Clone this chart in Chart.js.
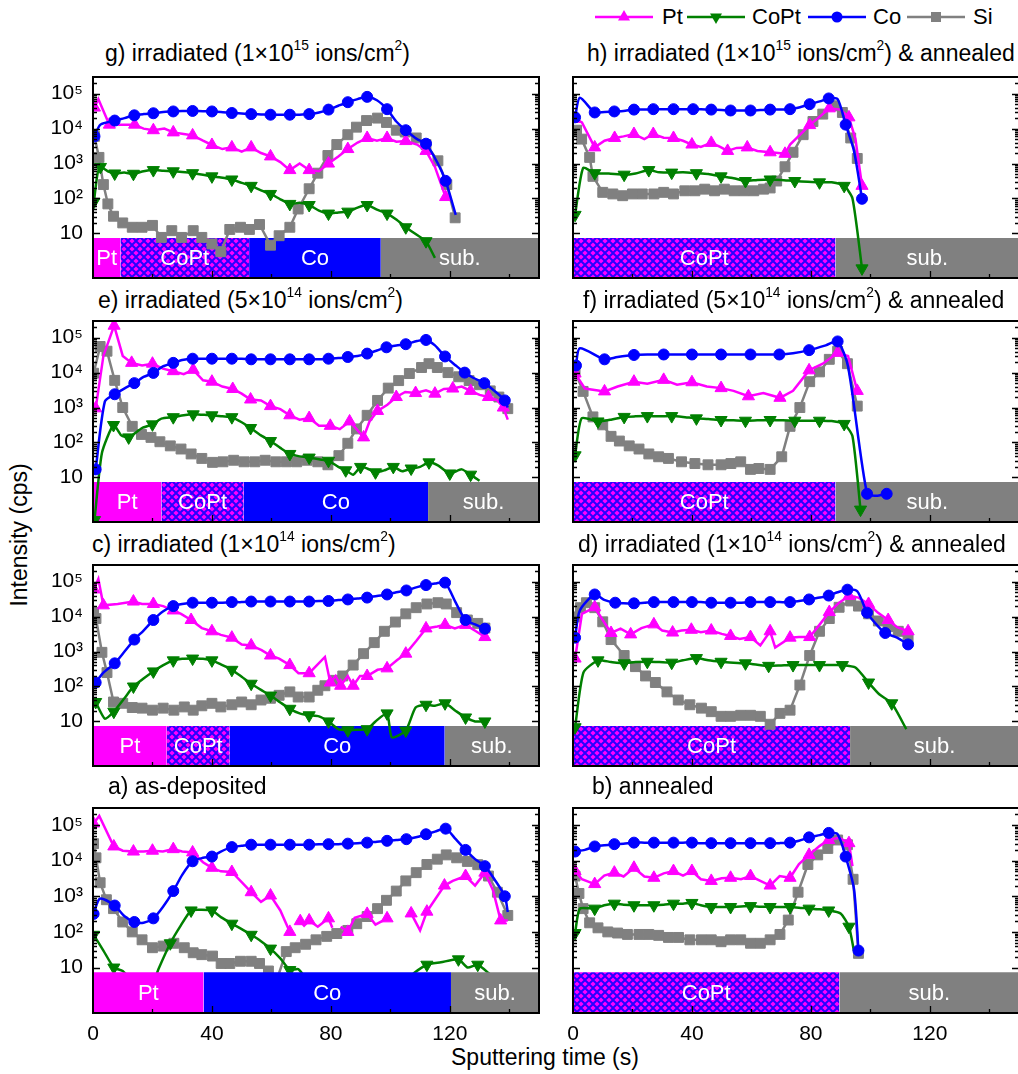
<!DOCTYPE html>
<html>
<head>
<meta charset="utf-8">
<script src="https://cdn.jsdelivr.net/npm/chart.js@4.4.1/dist/chart.umd.min.js"></script>
<style>
  body { margin:0; width:1018px; height:1074px; overflow:hidden; background:#fff; position:relative;
         font-family:"Liberation Sans", Arial, sans-serif; color:#000; }
  canvas { position:absolute; }
  .ttl { position:absolute; font-size:23px; line-height:23px; white-space:nowrap; }
  .ttl sup { font-size:0.6em; vertical-align:baseline; position:relative; top:-0.75em; line-height:0; }
  .leg { position:absolute; font-size:22px; line-height:22px; white-space:nowrap; top:6px; }
  #ytitle { position:absolute; left:19px; top:535px; font-size:23px; line-height:23px; white-space:nowrap;
            transform:translate(-50%,-50%) rotate(-90deg); }
  #xtitle { position:absolute; left:451px; top:1046px; font-size:23px; line-height:23px; white-space:nowrap; }
</style>
</head>
<body>
<svg id="legsvg" width="1018" height="40" style="position:absolute;left:0;top:0"></svg>
<div id="ytitle">Intensity (cps)</div>
<div id="xtitle">Sputtering time (s)</div>
<script>
// ---- data: [time (s), counts (cps)] ----
// g) irradiated 1e15
const gPt = [[0.5,4e4],[1.8,7e4],[5.5,1.3e4],[10,1.3e4],[14,1.3e4],[17,1e4],[20.3,9e3],[24,1e4],[27,7.8e3],[30.5,7e3],[33.5,6.4e3],[37,4.5e3],[40,3.4e3],[43.5,2.6e3],[46.7,2.9e3],[50,2.2e3],[53.2,2.9e3],[56.5,2e3],[59.7,1.6e3],[63,1.1e3],[66.2,650],[69.5,1e3],[72.7,650],[76,600],[79.2,1e3],[82.5,1.6e3],[85.7,2.6e3],[89,4e3],[92.2,5.4e3],[95.5,4.5e3],[98.9,5.4e3],[102,4.2e3],[105.2,4.4e3],[109,3.5e3],[112,2.3e3],[115,800],[118.6,110]];
const gCoPt = [[0.3,80],[1.5,500],[2.5,800],[5,600],[7.3,520],[10.5,550],[13.6,510],[17,600],[20.3,650],[23.6,620],[27,600],[30,570],[33.5,530],[37,480],[40,430],[43,400],[46.7,350],[50,280],[53.2,230],[56.5,170],[59.7,135],[63,95],[66.2,70],[69.5,75],[72.7,65],[76,45],[79.2,37],[82.5,40],[85.7,42],[89,55],[92.2,65],[95.5,48],[98.9,37],[102,25],[105.2,15],[109,9],[112,6],[115,2]];
const gCo = [[0.5,6e3],[2.5,1.3e4],[7.3,1.7e4],[10.6,2e4],[13.9,2.4e4],[17,2.6e4],[20.3,2.75e4],[23.6,3e4],[27,3.1e4],[30,3.2e4],[33.5,3.2e4],[37,3.15e4],[40,3.1e4],[43,3e4],[46.7,2.8e4],[50,2.7e4],[53.2,2.6e4],[56.5,2.55e4],[59.7,2.5e4],[63,2.5e4],[66.2,2.5e4],[69.5,2.5e4],[72.7,2.6e4],[76,2.9e4],[79.2,3.5e4],[82.5,4.5e4],[85.7,5.7e4],[89,7e4],[92.2,8.1e4],[95.5,6.5e4],[98.9,3.6e4],[102,1.6e4],[105.2,9e3],[109,5e3],[112,3.7e3],[116,1e3],[118.6,320],[122,34]];
const gSi = [[0.5,6e3],[2,1.5e3],[3.5,250],[5,70],[6.9,31],[10,20],[13.2,15],[16.5,15],[20,17],[23,7.7],[26.5,12],[29.8,7.7],[33.7,12],[36.6,7.7],[40,5],[43,3],[46,13],[49.6,15],[52.6,13],[56,18],[59.7,4.6],[62.6,8.6],[66.2,15],[69,50],[72.7,190],[75.6,530],[79,1.7e3],[82,3.5e3],[85.7,6.7e3],[88.6,1.1e4],[92,1.7e4],[95.7,2e4],[98.7,1.5e4],[102,9e3],[105,8e3],[108.7,5.4e3],[112,3.5e3],[116,1.2e3],[119,250],[121.8,28]];
const gLayers = [[0,9.2,'Pt'],[9.2,52.5,'CoPt'],[52.5,96.8,'Co'],[96.8,150,'sub.']];

// h) irradiated 1e15 & annealed
const hPt = [[0.7,1.9e4],[3,1.5e4],[7.3,2.9e3],[10.6,4.5e3],[14,5.4e3],[17,6e3],[20.5,7e3],[24,5e3],[27,7e3],[30.5,5.5e3],[33.8,5.4e3],[37,4.5e3],[40,3.5e3],[43,3e3],[46.5,3.9e3],[49.5,3e3],[52,2.3e3],[55,2.8e3],[58.6,2.9e3],[62,2.3e3],[66.3,2.1e3],[69,2e3],[71.3,1.9e3],[73,3.5e3],[79.6,1.26e4],[83,2.2e4],[86.2,3.8e4],[90,3.5e4],[92.8,2.1e4],[95,5e3],[97.2,230]];
const hCoPt = [[0.7,34],[3.4,750],[7.3,530],[12,520],[17.2,480],[21,520],[25.5,650],[29,560],[33.2,550],[37,560],[41.5,530],[45.5,500],[49.8,430],[54,380],[58,316],[62,340],[66.3,350],[70,340],[74.6,316],[79,300],[82.9,290],[87,290],[91.2,230],[94,100],[97.2,1]];
const hCo = [[0.7,2.1e4],[2.3,7.6e4],[7.3,2.9e4],[10.6,3e4],[13.9,3.1e4],[17,3.2e4],[20.5,3.5e4],[24,3.5e4],[27,3.6e4],[30,3.6e4],[33.8,3.6e4],[37,3.6e4],[40.4,3.6e4],[43,3.6e4],[46.5,3.5e4],[50,3.4e4],[53,3.3e4],[56.5,3.3e4],[59.7,3.3e4],[63,3.4e4],[66.3,3.5e4],[69.5,3.5e4],[73,3.6e4],[76,4e4],[79.6,5e4],[83,6e4],[86,7.3e4],[89,7e4],[91.7,1.3e4],[94.5,2.3e3],[97.2,98]];
const hSi = [[1.2,9e3],[2.9,5e3],[5.6,1.5e3],[6.7,430],[10,150],[13.4,135],[16.7,120],[20,135],[23.3,135],[27.2,135],[30.5,150],[33.8,135],[37.6,166],[41,166],[44.3,185],[47.6,166],[50.9,185],[54.2,166],[57.5,166],[60.8,166],[64.1,185],[66.3,200],[68.5,316],[71.3,810],[74,2.1e3],[77.4,6.7e3],[80.7,1.6e4],[84,2.6e4],[87.9,4.5e4],[90.6,2.9e4],[93.4,5.4e3],[95.6,1.4e3]];
const hLayers = [[0,88.3,'CoPt'],[88.3,150,'sub.']];

// e) irradiated 5e14
const ePt = [[0.9,950],[3.5,3e4],[7.1,2.2e5],[10,3e4],[13,1.9e4],[16.5,1.6e4],[20,1.8e4],[23.5,1.3e4],[27,1.1e4],[30.5,9e3],[33.7,1.2e4],[37,6e3],[40,5.5e3],[43.5,4e3],[47,3.4e3],[50,2.5e3],[53,1.7e3],[56.5,1.6e3],[59.7,1.1e3],[63,900],[66.2,600],[69.5,450],[72.7,500],[76,300],[79.8,300],[83,240],[86.3,400],[88.5,250],[91,140],[93,400],[95.7,800],[99,1.2e3],[102,2e3],[105,2.8e3],[108.5,2.6e3],[112,3.1e3],[115,2.5e3],[118,3.4e3],[121,3.5e3],[124,4e3],[127,3e3],[130,2.3e3],[133,2e3],[136,1.6e3],[138,1e3],[139.5,450]];
const eCoPt = [[0.5,0.6],[3,50],[6.9,316],[9.5,160],[12,140],[16.5,260],[20,330],[23,480],[27,530],[30.5,600],[33.7,640],[37,620],[40,600],[43.5,560],[46.7,530],[50,380],[53,260],[56.5,160],[59.7,110],[63,70],[66.2,47],[69.5,40],[72.7,37],[76,33],[79.2,30],[82.5,20],[85,16],[87.5,12],[90,20],[92.2,18],[95,14],[98,16],[101,20],[104,15],[107,18],[110,20],[113,27],[116,22],[120,13],[124,17],[127,12],[130,8]];
const eCo = [[0.9,17],[4,1.5e3],[7.3,2.4e3],[10.5,3.5e3],[13.9,5e3],[17,7.5e3],[20.3,9.8e3],[23.5,1.5e4],[27,1.9e4],[30,2.3e4],[33.5,2.5e4],[37,2.5e4],[40,2.5e4],[43,2.5e4],[46.7,2.5e4],[50,2.5e4],[53.2,2.4e4],[56.5,2.4e4],[59.7,2.4e4],[63,2.4e4],[66.2,2.4e4],[69.5,2.4e4],[72.7,2.4e4],[76,2.4e4],[79.2,2.5e4],[82.5,2.6e4],[85.7,2.8e4],[89,3e4],[92.2,3.5e4],[95.5,4.3e4],[98.7,5.3e4],[102,6e4],[105.2,6.5e4],[109,8e4],[112,8.6e4],[115,6e4],[118.4,2.9e4],[122,1.6e4],[125,1e4],[128,7e3],[131.6,5e3],[135,3e3],[138.5,1.6e3],[139.5,1e3]];
const eSi = [[0.2,9.6e3],[2.4,5.6e4],[4.7,4.1e4],[7.3,6e3],[10,1e3],[13.2,290],[16.3,170],[19.5,140],[22.5,105],[26,80],[29.6,65],[33,47],[36.6,35],[40.2,27],[43.7,28],[47.3,31],[50.8,28],[54.4,28],[57.9,31],[61.5,28],[65,28],[68.5,28],[72,31],[75.6,28],[79,23],[82.7,42],[85.7,95],[88.6,245],[92.2,600],[95.7,1.6e3],[99.3,3.6e3],[102.8,5.9e3],[106.4,9.4e3],[110.5,1.4e4],[113,1.8e4],[115.8,1.4e4],[119.4,1e4],[123,7.6e3],[126.5,5.9e3],[130,4.5e3],[133.6,3e3],[136.5,2e3],[139.5,930]];
const eLayers = [[0,23,'Pt'],[23,50.7,'CoPt'],[50.7,112.7,'Co'],[112.7,150,'sub.']];

// f) irradiated 5e14 & annealed
const fPt = [[0.7,9.4e3],[4,3.5e3],[10.6,2.9e3],[15,4e3],[20.5,5.5e3],[25,4.8e3],[30.5,6.2e3],[35,4.5e3],[40,5.3e3],[45,4e3],[49.8,3.6e3],[54,3e3],[59,2.1e3],[64,2.6e3],[69.6,1.9e3],[74,3e3],[79.4,1.16e4],[84,1.8e4],[89,3.7e4],[92.5,3e4],[95.6,3e3]];
const fCoPt = [[0.7,43],[2.9,490],[8.4,400],[12.8,450],[17.2,540],[21,560],[25,570],[29,560],[33.2,570],[37,540],[41.5,490],[45.5,470],[49.8,440],[54,430],[58,420],[62,430],[66.3,440],[70.5,430],[74.6,420],[79,420],[82.9,420],[87,410],[91.2,340],[94,150],[96.7,1.2]];
const fCo = [[1,1.6e4],[2.3,5e4],[10.6,2.4e4],[15,2.8e4],[20.5,3.2e4],[25,3.3e4],[30.5,3.3e4],[35,3.3e4],[40,3.3e4],[45,3.3e4],[49.8,3.3e4],[55,3.3e4],[59.7,3.3e4],[65,3.3e4],[69.4,3.3e4],[74,3.6e4],[79.4,4.4e4],[85,6e4],[89,7.8e4],[92.5,1.5e4],[98.9,3.4],[102,3],[105.5,3.4]];
const fSi = [[0.7,1.05e4],[3.4,2.9e3],[6.7,540],[10,320],[12.8,150],[15.6,110],[18.9,80],[22.2,65],[25.5,47],[28.8,39],[32.1,35],[36.5,28],[41,25],[45.4,23],[49.8,23],[53.1,25],[56.4,28],[59.7,17],[62.5,18],[66.3,17],[70.2,39],[73,290],[76.3,1e3],[79.6,5.5e3],[82.9,1.05e4],[86.2,2.4e4],[89,4.1e4],[92.3,1.8e4],[95.6,1.1e3]];
const fLayers = [[0,88.3,'CoPt'],[88.3,150,'sub.']];

// c) irradiated 1e14
const cPt = [[0.3,6e4],[1.8,1.2e5],[3.5,2.1e4],[8.3,2.3e4],[13.6,2.7e4],[16.5,2.3e4],[20.3,2.3e4],[23.6,2e4],[27,1.5e4],[29.6,1.2e4],[33,8e3],[36.6,4.7e3],[40,3.8e3],[43,3e3],[46.7,2.5e3],[50,1.6e3],[53.2,1.5e3],[56.7,1.1e3],[59.7,770],[62.6,630],[66.2,410],[69.1,240],[72.7,240],[78,700],[79.8,130],[81.6,200],[83.3,105],[85.7,200],[87.5,105],[89.8,200],[92.2,200],[95.7,300],[98.9,330],[102.2,560],[105.2,870],[108.7,2e3],[112,4.6e3],[115.8,5.2e3],[118.4,5.8e3],[121.7,4.6e3],[125.3,5.8e3],[128.8,3.8e3],[131.8,2.6e3]];
const cCoPt = [[0.9,36],[4,12],[7,19],[10.5,45],[13.6,100],[17,170],[20.3,270],[23.5,400],[27,560],[30,620],[33.5,630],[37,620],[40,560],[43,430],[46.7,300],[50,190],[53.2,120],[56.5,80],[59.7,55],[63,35],[66.2,23],[69.5,17],[72.7,15],[76,14],[79.2,10],[82.5,6],[85.7,5.6],[89,5.8],[92.2,6],[95,10],[98.9,17],[100.5,3.5],[105.2,5.5],[108.5,25],[112,30],[115,28],[118.4,33],[122,20],[125.3,13],[128.5,10],[131.8,10]];
const cCo = [[0.9,130],[3.5,250],[7.3,460],[10.6,1e3],[13.9,2.2e3],[17,4e3],[20.3,8e3],[23.5,1.4e4],[27,2e4],[30,2.3e4],[33.5,2.5e4],[37,2.5e4],[40,2.5e4],[43,2.5e4],[46.7,2.6e4],[50,2.6e4],[53.2,2.7e4],[56.5,2.7e4],[59.7,2.7e4],[63,2.7e4],[66.2,2.7e4],[69.5,2.7e4],[72.7,2.7e4],[76,2.8e4],[79.2,2.8e4],[82.5,3e4],[85.7,3.1e4],[89,3.3e4],[92.2,3.5e4],[95.5,3.9e4],[98.9,4.3e4],[102,5e4],[105.4,5.6e4],[109,7e4],[112,8e4],[115,8.8e4],[118.4,9.4e4],[122,2.5e4],[125.3,8e3],[128.5,6e3],[131.8,4.5e3]];
const cSi = [[0.2,1.3e4],[1,8.8e3],[3,950],[4.7,250],[6.9,36],[10,33],[13.2,25],[16.5,24],[20,21],[23.6,24],[27.2,21],[30.7,26],[33.7,21],[36.6,28],[40,33],[43,26],[46.7,30],[50,36],[53.2,30],[56.5,41],[59.7,46],[62.6,56],[66.2,70],[69,50],[72.7,50],[75.6,78],[78,105],[81,150],[84,200],[87.5,410],[91,870],[94.6,1.8e3],[98,3.8e3],[101.7,7e3],[105.2,1.2e4],[108.7,1.8e4],[112.3,2.3e4],[116,2.5e4],[118.8,2.3e4],[122.3,1.3e4],[125.9,8e3],[129.4,6.4e3],[131.8,4.7e3]];
const cLayers = [[0,24.8,'Pt'],[24.8,46,'CoPt'],[46,118.3,'Co'],[118.3,150,'sub.']];

// d) irradiated 1e14 & annealed
const dPt = [[0.7,630],[3,1.2e4],[7.3,1.85e4],[10,8e3],[12.8,3.4e3],[16,4.5e3],[19.4,3.1e3],[23,4.7e3],[27.2,6e3],[30,4e3],[33.5,3.5e3],[36.5,4e3],[39.8,4.2e3],[43,3.6e3],[46.5,4e3],[50,3.2e3],[53,2.8e3],[56,2.3e3],[59.7,2.6e3],[63,1.5e3],[66.3,3.8e3],[68,1.3e3],[73,2.5e3],[76,2.6e3],[79.6,2.6e3],[83,6e3],[86.2,1.35e4],[89.5,2.5e4],[92.8,3.9e4],[96,3.5e4],[99.4,2.3e4],[102.5,1.3e4],[106,8e3],[109,5e3],[112.7,3.8e3]];
const dCoPt = [[0.7,6.8],[3.5,250],[8.4,560],[12.8,500],[17.2,460],[21,500],[25,510],[29,500],[33.2,480],[37,560],[41.5,650],[45.5,560],[49.8,510],[54,480],[58,460],[62,420],[65.8,390],[70,400],[74,410],[78.5,410],[82.9,410],[87,410],[90.6,410],[95,350],[99.4,130],[103,60],[107.2,33],[112.1,6]];
const dCo = [[0.7,2.5e3],[2.3,1.5e4],[7.3,4.3e4],[10.5,3e4],[14.2,2.5e4],[17,2.4e4],[20.5,2.4e4],[24,2.5e4],[27.2,2.6e4],[30.5,2.6e4],[33.8,2.6e4],[37,2.6e4],[40,2.6e4],[43,2.6e4],[46.5,2.5e4],[50,2.5e4],[53,2.5e4],[56,2.5e4],[59.7,2.6e4],[63,2.6e4],[66.3,2.6e4],[69.5,2.6e4],[73,2.6e4],[76,2.8e4],[79.4,3.1e4],[83,3.5e4],[86,4e4],[89,5e4],[92.3,5.9e4],[95.6,5.3e4],[98.9,1.3e4],[102,6e3],[105,3.4e3],[109,2.5e3],[112.7,1.6e3]];
const dSi = [[0.7,9.8e3],[2.5,1.8e4],[4.5,2.5e4],[7.3,1.8e4],[10,7.1e3],[12.8,2.2e3],[17.2,770],[21,370],[24.4,200],[27.7,130],[31.6,70],[35.4,41],[39.3,30],[43.2,24],[46.5,19],[49.8,14],[53,14],[56.4,15],[59.7,15],[63,14],[66.3,8.3],[69.6,17],[73,21],[76.3,110],[79.6,770],[82.9,3.8e3],[86.2,8.8e3],[89.5,1.85e4],[93.4,2.8e4],[96,2e4],[99.4,1.2e4],[102.7,7.5e3],[106,5.2e3],[109.4,3.8e3],[112.7,2.5e3]];
const dLayers = [[0,93.2,'CoPt'],[93.2,150,'sub.']];

// a) as-deposited
const aPt = [[0.2,1.1e5],[2.1,1.8e5],[7,2.5e4],[10,1.9e4],[13.6,1.8e4],[17,1.8e4],[20,1.9e4],[23.5,1.8e4],[27,2.1e4],[30,1.8e4],[33.5,1.7e4],[37,9e3],[40,6.3e3],[43,5e3],[46.7,4.8e3],[50,2.5e3],[53.2,1.3e3],[56.5,700],[59.7,1.05e3],[63,400],[66.2,100],[68,null],[69.7,200],[71,150],[72.7,210],[75.6,140],[79.2,240],[80.5,130],[81.5,null],[83.3,140],[85.7,100],[88,250],[92.2,320],[95,160],[98.9,240],[104.5,null],[107,330],[110,110],[112.3,370],[115.2,850],[118.2,2e3],[121,2.7e3],[125.3,3.7e3],[128.5,2e3],[131.8,4.6e3],[134.5,1.5e3],[137.1,210],[139.5,210]];
const aCoPt = [[0.2,83],[3.5,30],[7,10],[10,8],[13.5,4],[17,4],[20.3,4],[22,9],[26,48],[29.5,150],[33,400],[36.5,420],[40,400],[43,260],[46.7,170],[50,120],[53.2,83],[56.5,55],[59.7,34],[63,18],[66.2,8.5],[69,9],[72.7,4],[76,4],[79.2,4],[82.5,4],[85.7,4],[89,4],[92.2,4],[95.5,4],[98.9,4],[102,4],[105.2,4],[108,7],[112.3,12],[117,14],[122.9,17],[126,10],[129.4,12],[133,7],[136,4]];
const aCo = [[0.2,320],[2.3,850],[7.3,550],[10.5,280],[13.9,190],[17,180],[20.3,240],[23.5,500],[27,1.4e3],[30,4e3],[33.5,9.6e3],[37,1.2e4],[40,1.3e4],[43,1.8e4],[46.7,2.4e4],[50,2.6e4],[53.2,2.8e4],[56.5,2.8e4],[59.7,2.8e4],[63,2.8e4],[66.2,2.8e4],[69.5,2.8e4],[72.7,2.8e4],[76,2.9e4],[79.2,2.9e4],[82.5,2.9e4],[85.7,3e4],[89,3.1e4],[92.2,3.2e4],[95.5,3.4e4],[98.9,3.6e4],[102,3.8e4],[105.4,4e4],[109,4.6e4],[112,5.5e4],[115,6.5e4],[118.6,7.9e4],[122,4e4],[125.3,2e4],[128.5,1.1e4],[131.8,7e3],[135,3e3],[138.5,1e3],[139.5,360]];
const aSi = [[0.2,3e4],[1,1.2e4],[2.4,2.4e3],[4.5,800],[6.9,450],[10,190],[13.2,100],[16.5,60],[20,36],[23.6,40],[27.2,48],[30.7,36],[33.7,26],[36.6,23],[40.2,21],[43.1,13],[46,13],[49.6,15],[53.2,15],[56,13],[59,8],[62,5],[65,28],[68,36],[71.5,45],[75,60],[78.6,75],[82,90],[85.7,110],[88.7,170],[92.2,270],[95.7,450],[98.7,770],[102,1.4e3],[105.2,2.7e3],[108.7,4.6e3],[112.3,7.8e3],[115.8,1.1e4],[118.8,1.45e4],[122.3,1.2e4],[125.9,9.5e3],[129.4,7.7e3],[133,3.7e3],[136,1.3e3],[139.5,290]];
const aLayers = [[0,37.2,'Pt'],[37.2,120.4,'Co'],[120.4,150,'sub.']];

// b) annealed
const bPt = [[0.7,5.1e3],[3,3e3],[7.3,2.2e3],[10.5,3.8e3],[13.9,4.6e3],[17,3.6e3],[20.5,6.3e3],[24,3.6e3],[27.2,3.3e3],[30.5,4.4e3],[33.8,5.1e3],[37,3.8e3],[40,5.1e3],[43,3e3],[46.5,2.7e3],[50,3.2e3],[53,3.3e3],[56.5,3e3],[59.7,3.7e3],[63,2.7e3],[66.3,2e3],[69.5,3.7e3],[73,3.3e3],[76,8e3],[79.4,1.45e4],[83,2.6e4],[86,3.8e4],[89.5,4.4e4],[92.8,3.1e4],[94,7e3]];
const bCoPt = [[0.7,93],[2.3,450],[7.3,450],[10.5,560],[13.9,620],[17,580],[20.5,560],[24,560],[27.2,560],[30.5,580],[33.8,620],[37,620],[40,650],[43,560],[46.5,500],[50,500],[53,500],[56.5,520],[59.7,530],[63,510],[66.3,500],[69.5,500],[73,500],[76,480],[79.4,450],[83,430],[86,400],[90,330],[92.8,140],[94.5,29]];
const bCo = [[0.7,1.8e4],[4,2e4],[7.3,2.5e4],[10.5,2.7e4],[13.9,2.9e4],[17,3e4],[20.5,3.2e4],[24,3.2e4],[27.2,3.2e4],[30.5,3.2e4],[33.8,3.2e4],[37,3.2e4],[40,3.2e4],[43,3.1e4],[46.5,3.1e4],[50,3.1e4],[53,3.1e4],[56,3.1e4],[59.7,3.1e4],[63,3.1e4],[66.3,3.1e4],[69.5,3.1e4],[73,3.2e4],[76,3.6e4],[79.4,4.5e4],[83,5.2e4],[86,6e4],[89,5.5e4],[91.7,1.3e4],[94.5,1.6e3],[96,30]];
const bSi = [[0.7,3.7e3],[2,1.2e3],[3.4,450],[5.6,180],[8.4,130],[11.7,100],[15,93],[18.3,85],[22.2,85],[25.5,85],[28.8,80],[32.1,70],[35.5,70],[39.3,60],[43.2,60],[46.5,60],[49.8,53],[53,60],[56.4,60],[59.7,48],[63,48],[66.3,60],[69.6,85],[72.4,215],[75.7,1.3e3],[79,7.8e3],[82.3,1.45e4],[85.7,2.2e4],[89,3.8e4],[92.3,2.8e4],[94.2,3e3],[96,25]];
const bLayers = [[0,89.6,'CoPt'],[89.6,150,'sub.']];

const yTickValues = [10, 100, 1000, 10000, 100000];
const xTickValues = [0, 40, 80, 120];

// ---- layout / style ----
const FONT = '"Liberation Sans", Arial, sans-serif';
const ROW_TOP = [73, 317, 561, 804];
const FRAME_H = 209;
const TITLE_BASE = [61, 308, 552, 794];
const LAYER_TOP = 7.4;
const Y_MIN = 0.53, Y_MAX = 3.0e5;
const PAD_T = 4;

const SERIES = [
  {name: 'Co',   color: '#0000ff', style: 'circle',   rot: 0,   r: 5.5, every: 2, tension: 0.25, order: 1},
  {name: 'Pt',   color: '#ff00ff', style: 'triangle', rot: 0,   r: 7,   every: 2, tension: 0,    order: 2},
  {name: 'CoPt', color: '#008000', style: 'triangle', rot: 180, r: 7,   every: 2, tension: 0.2,  order: 3},
  {name: 'Si',   color: '#808080', style: 'rect',     rot: 0,   r: 7,   every: 1, tension: 0,    order: 4}
];
const LAYER_COLOR = {'Pt': '#ff00ff', 'Co': '#0000ff', 'sub.': '#808080'};

const PANELS = [
  {row: 0, col: 0, x: 105, title: 'g) irradiated (1×10<sup>15</sup> ions/cm<sup>2</sup>)', s: {Pt: gPt, CoPt: gCoPt, Co: gCo, Si: gSi}, layers: gLayers},
  {row: 0, col: 1, x: 587, title: 'h) irradiated (1×10<sup>15</sup> ions/cm<sup>2</sup>) &amp; annealed', s: {Pt: hPt, CoPt: hCoPt, Co: hCo, Si: hSi}, layers: hLayers},
  {row: 1, col: 0, x: 98,  title: 'e) irradiated (5×10<sup>14</sup> ions/cm<sup>2</sup>)', s: {Pt: ePt, CoPt: eCoPt, Co: eCo, Si: eSi}, layers: eLayers},
  {row: 1, col: 1, x: 583, title: 'f) irradiated (5×10<sup>14</sup> ions/cm<sup>2</sup>) &amp; annealed', s: {Pt: fPt, CoPt: fCoPt, Co: fCo, Si: fSi}, layers: fLayers},
  {row: 2, col: 0, x: 92,  title: 'c) irradiated (1×10<sup>14</sup> ions/cm<sup>2</sup>)', s: {Pt: cPt, CoPt: cCoPt, Co: cCo, Si: cSi}, layers: cLayers},
  {row: 2, col: 1, x: 578, title: 'd) irradiated (1×10<sup>14</sup> ions/cm<sup>2</sup>) &amp; annealed', s: {Pt: dPt, CoPt: dCoPt, Co: dCo, Si: dSi}, layers: dLayers},
  {row: 3, col: 0, x: 108, title: 'a) as-deposited', s: {Pt: aPt, CoPt: aCoPt, Co: aCo, Si: aSi}, layers: aLayers, layersOnTop: true},
  {row: 3, col: 1, x: 592, title: 'b) annealed', s: {Pt: bPt, CoPt: bCoPt, Co: bCo, Si: bSi}, layers: bLayers}
];

Chart.defaults.font.family = FONT;
Chart.defaults.color = '#000';

// CoPt layer hatch: blue ground with magenta diamonds
function makeHatch() {
  const c = document.createElement('canvas');
  c.width = 8; c.height = 8;
  const g = c.getContext('2d');
  g.fillStyle = '#2a00ff';
  g.fillRect(0, 0, 8, 8);
  g.fillStyle = '#ff00ff';
  const dia = (cx, cy, h) => {
    g.beginPath(); g.moveTo(cx, cy - h); g.lineTo(cx + h, cy); g.lineTo(cx, cy + h); g.lineTo(cx - h, cy); g.closePath(); g.fill();
  };
  [[0,0],[8,0],[0,8],[8,8],[4,4]].forEach(([x, y]) => dia(x, y, 2.6));
  return g.createPattern(c, 'repeat');
}
const hatch = makeHatch();

const SUPS = {2: '²', 3: '³', 4: '⁴', 5: '⁵'};
function yLabel(v) {
  const e = Math.round(Math.log10(v));
  return e === 1 ? '10' : '10' + SUPS[e];
}

const framePlugin = {
  id: 'frame',
  afterDatasetDraw(chart, args) {
    const ds = chart.data.datasets[args.index];
    if (!ds.layerName) return;
    const {ctx, chartArea: a, scales: {x, y}} = chart;
    const x0 = Math.max(x.getPixelForValue(ds.data[0].x), a.left);
    const x1 = Math.min(x.getPixelForValue(ds.data[1].x), a.right);
    const yc = (y.getPixelForValue(LAYER_TOP) + a.bottom) / 2 + 1;
    ctx.save();
    ctx.font = '22px ' + FONT;
    ctx.fillStyle = '#fff';
    ctx.textAlign = 'center';
    ctx.textBaseline = 'middle';
    ctx.fillText(ds.layerName, (x0 + x1) / 2, yc);
    ctx.restore();
  },
  afterDraw(chart) {
    const {ctx, chartArea: a, scales: {x, y}} = chart;
    ctx.save();
    ctx.strokeStyle = '#000';
    ctx.lineWidth = 1.3;
    ctx.beginPath();
    for (let e = 1; e <= 5; e++) {
      for (let k = 1; k <= 9; k++) {
        const v = k * Math.pow(10, e);
        if (v >= y.max) break;
        const py = Math.round(y.getPixelForValue(v)) + 0.5;
        const len = k === 1 ? 7 : 4;
        ctx.moveTo(a.left, py); ctx.lineTo(a.left + len, py);
        ctx.moveTo(a.right, py); ctx.lineTo(a.right - len, py);
      }
    }
    for (let t = 20; t < x.max; t += 20) {
      const px = Math.round(x.getPixelForValue(t)) + 0.5;
      const len = t % 40 === 0 ? 7 : 4;
      ctx.moveTo(px, a.bottom); ctx.lineTo(px, a.bottom - len);
    }
    ctx.stroke();
    ctx.lineWidth = 2;
    ctx.strokeRect(a.left, a.top, a.right - a.left, a.bottom - a.top);
    ctx.restore();
  }
};

function makeChart(p) {
  const left = p.col === 0;
  const bottom = p.row === 3;
  const padL = left ? 0 : 20;
  const cx = left ? 0 : 573 - padL;
  const W = left ? 547 : 1025 + 2 - cx;
  const H = FRAME_H + PAD_T + (bottom ? 40 : 4);
  const canvas = document.createElement('canvas');
  canvas.width = W; canvas.height = H;
  canvas.style.left = cx + 'px';
  canvas.style.top = (ROW_TOP[p.row] - PAD_T) + 'px';
  canvas.style.width = W + 'px';
  canvas.style.height = H + 'px';
  document.body.appendChild(canvas);

  const t = document.createElement('div');
  t.className = 'ttl';
  t.style.left = p.x + 'px';
  t.style.top = (TITLE_BASE[p.row] - 19.5) + 'px';
  t.innerHTML = p.title;
  document.body.appendChild(t);

  const datasets = [];
  SERIES.forEach(s => {
    datasets.push({
      label: s.name,
      data: p.s[s.name].map(([tt, v]) => ({x: tt, y: v})),
      borderColor: s.color,
      backgroundColor: s.color,
      borderWidth: 2.5,
      tension: s.tension,
      pointStyle: s.style,
      pointRotation: s.rot,
      pointRadius: ctx => (ctx.dataIndex % s.every === 0 ? s.r : 0),
      pointBorderWidth: 1,
      pointBackgroundColor: s.color,
      pointBorderColor: s.color,
      fill: false,
      order: s.order
    });
  });
  p.layers.forEach(([t0, t1, name]) => {
    datasets.push({
      label: name,
      layerName: name,
      data: [{x: t0, y: LAYER_TOP}, {x: t1, y: LAYER_TOP}],
      fill: 'start',
      backgroundColor: name === 'CoPt' ? hatch : LAYER_COLOR[name],
      borderColor: 'rgba(0,0,0,0)',
      borderWidth: 0,
      pointRadius: 0,
      tension: 0,
      order: p.layersOnTop ? 0 : 10
    });
  });

  new Chart(canvas, {
    type: 'line',
    data: {datasets},
    options: {
      responsive: false,
      animation: false,
      events: [],
      layout: {padding: {left: padL, right: 2, top: PAD_T, bottom: bottom ? 0 : 4}},
      plugins: {legend: {display: false}, tooltip: {enabled: false}},
      scales: {
        x: {
          type: 'linear', min: 0, max: 150,
          display: bottom,
          grid: {display: false, drawTicks: false},
          border: {display: false},
          ticks: {font: {size: 21}, color: '#000', padding: 9, maxRotation: 0, autoSkip: false},
          afterBuildTicks: sc => { sc.ticks = xTickValues.map(v => ({value: v})); },
          afterFit: sc => {
            if (bottom) sc.height = 40;
            sc.paddingLeft = 0; sc.paddingRight = 0;
          }
        },
        y: {
          type: 'logarithmic', min: Y_MIN, max: Y_MAX,
          display: left,
          grid: {display: false, drawTicks: false},
          border: {display: false},
          ticks: {font: {size: 21}, color: '#000', padding: 10, autoSkip: false, callback: v => yLabel(v)},
          afterBuildTicks: sc => { sc.ticks = yTickValues.map(v => ({value: v})); },
          afterFit: sc => {
            if (left) sc.width = 93;
            sc.paddingTop = 0; sc.paddingBottom = 0;
          }
        }
      }
    },
    plugins: [framePlugin]
  });
}

PANELS.forEach(makeChart);

// legend (top right)
const LEG_X = [595, 687, 808, 907];
const LEG_TEXT_X = [662, 752, 873, 973];
const LEG_ORDER = ['Pt', 'CoPt', 'Co', 'Si'];
const svg = document.getElementById('legsvg');
let svgHtml = '';
LEG_ORDER.forEach((name, i) => {
  const s = SERIES.find(q => q.name === name);
  const x0 = LEG_X[i], x1 = x0 + 58, m = (x0 + x1) / 2, yc = 17;
  svgHtml += `<line x1="${x0}" y1="${yc}" x2="${x1}" y2="${yc}" stroke="${s.color}" stroke-width="2.5"/>`;
  if (s.style === 'circle') svgHtml += `<circle cx="${m}" cy="${yc}" r="5.5" fill="${s.color}"/>`;
  else if (s.style === 'rect') svgHtml += `<rect x="${m - 5}" y="${yc - 5}" width="10" height="10" fill="${s.color}"/>`;
  else if (s.rot === 0) svgHtml += `<polygon points="${m},${yc - 7} ${m + 6},${yc + 3.5} ${m - 6},${yc + 3.5}" fill="${s.color}"/>`;
  else svgHtml += `<polygon points="${m},${yc + 7} ${m + 6},${yc - 3.5} ${m - 6},${yc - 3.5}" fill="${s.color}"/>`;
  const d = document.createElement('div');
  d.className = 'leg';
  d.style.left = LEG_TEXT_X[i] + 'px';
  d.textContent = name;
  document.body.appendChild(d);
});
svg.innerHTML = svgHtml;
</script>
</body>
</html>
